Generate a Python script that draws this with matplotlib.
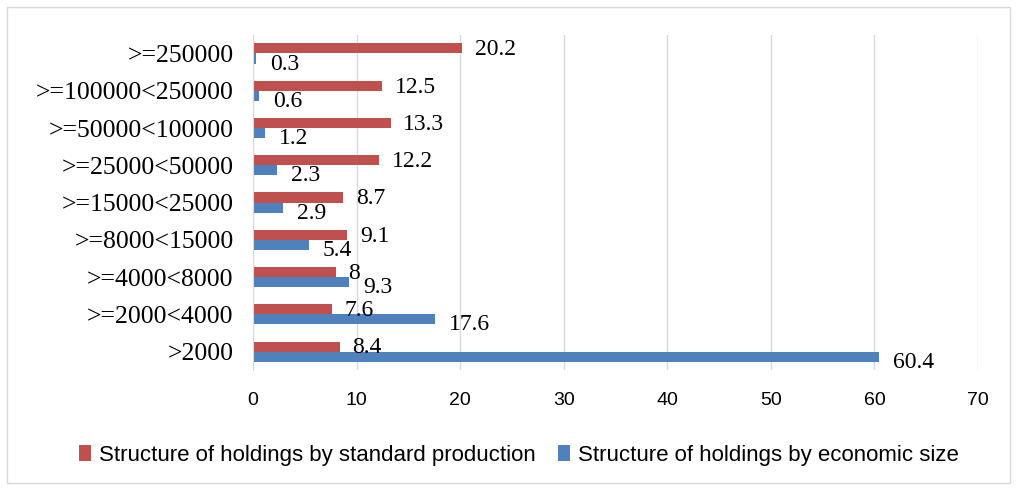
import matplotlib
matplotlib.use("Agg")
import matplotlib.pyplot as plt
import numpy as np
from matplotlib.patches import Rectangle

categories = [">=250000", ">=100000<250000", ">=50000<100000", ">=25000<50000",
              ">=15000<25000", ">=8000<15000", ">=4000<8000", ">=2000<4000", ">2000"]
standard_production = [20.2, 12.5, 13.3, 12.2, 8.7, 9.1, 8, 7.6, 8.4]
economic_size = [0.3, 0.6, 1.2, 2.3, 2.9, 5.4, 9.3, 17.6, 60.4]
xticks = [0, 10, 20, 30, 40, 50, 60, 70]

red = "#C0504D"
blue = "#4F81BD"

fig = plt.figure(figsize=(10.17, 4.91), dpi=100)
ax = fig.add_axes([0.2488, 0.246, 0.7129, 0.683])

y = np.arange(len(categories))
h = 0.27
ax.barh(y - h / 2, standard_production, height=h, color=red, zorder=3,
        label="Structure of holdings by standard production")
ax.barh(y + h / 2, economic_size, height=h, color=blue, zorder=3,
        label="Structure of holdings by economic size")

# data labels, roughly where Excel put them
for i, v in enumerate(standard_production):
    ax.annotate(f"{v:g}", (v, i - h / 2), xytext=(9, -1), textcoords="offset points",
                ha="left", va="center", fontsize=17, family="Liberation Serif")
for i, v in enumerate(economic_size):
    ax.annotate(f"{v:g}", (v, i + h / 2), xytext=(10, -4), textcoords="offset points",
                ha="left", va="center", fontsize=17, family="Liberation Serif")

ax.set_xlim(0, 70)
ax.set_ylim(8.5, -0.5)
ax.set_xticks(xticks)
ax.set_yticks(y)
ax.set_yticklabels(categories, fontsize=18.5, family="Liberation Serif")
for lbl in ax.get_xticklabels():
    lbl.set_fontsize(14)
    lbl.set_family("Liberation Sans")
ax.tick_params(length=0)
ax.tick_params(axis="x", pad=16)
ax.tick_params(axis="y", pad=14)
ax.grid(axis="x", color="#d9d9d9", linewidth=1, zorder=0)
for s in ["top", "right", "bottom"]:
    ax.spines[s].set_visible(False)
ax.spines["left"].set_color("#d9d9d9")
ax.spines["left"].set_zorder(4)

ax.legend(loc="center", bbox_to_anchor=(0.51, 0.073), bbox_transform=fig.transFigure,
          ncol=2, frameon=False, handlelength=0.55, handleheight=0.75,
          handletextpad=0.35, columnspacing=1.0, prop={"family": "Liberation Sans", "size": 16})

fig.patches.append(Rectangle((0.007, 0.016), 0.986, 0.97, transform=fig.transFigure,
                             fill=False, edgecolor="#d9d9d9", linewidth=1))

fig.savefig("out.png", dpi=100)
